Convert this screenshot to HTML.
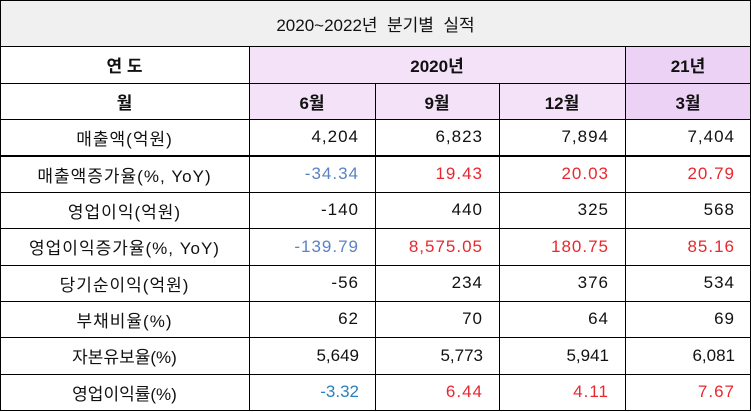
<!DOCTYPE html>
<html><head><meta charset="utf-8"><style>
body{margin:0;width:751px;height:412px;background:#fff;position:relative;overflow:hidden;font-family:"Liberation Sans","Noto Sans CJK KR",sans-serif;color:#111}
.c{position:absolute;display:flex;align-items:center;font-size:17px;box-sizing:border-box}
.h{position:absolute;background:#000;height:1px}
.v{position:absolute;background:#000;width:1px}
.ctr{justify-content:center;letter-spacing:1px}.r{justify-content:flex-end;padding-right:16px;letter-spacing:1px}
.b{font-weight:bold;font-size:17px;letter-spacing:0}
.bl{color:#5b82c4}.rd{color:#e8282e}.bl2{color:#2a80bd}
</style></head><body>
<div class="c ctr" style="left:0;top:0;width:751px;height:46px;background:#f0f0f0;font-size:17px;letter-spacing:0">2020~2022년&nbsp; 분기별&nbsp; 실적</div>
<div class="c ctr" style="left:249px;top:46px;width:376px;height:37px;background:#f4e2f8"></div>
<div class="c ctr" style="left:249px;top:83px;width:376px;height:36px;background:#f4e2f8"></div>
<div class="c ctr" style="left:625px;top:46px;width:126px;height:73px;background:#ecd2f4"></div>

<div class="c ctr b" style="left:0;top:46px;width:249px;height:37px">연 도</div>
<div class="c ctr b" style="left:249px;top:46px;width:376px;height:37px">2020년</div>
<div class="c ctr b" style="left:625px;top:46px;width:126px;height:37px">21년</div>
<div class="c ctr b" style="left:0;top:83px;width:249px;height:36px">월</div>
<div class="c ctr b" style="left:249px;top:83px;width:126px;height:36px">6월</div>
<div class="c ctr b" style="left:375px;top:83px;width:124px;height:36px">9월</div>
<div class="c ctr b" style="left:499px;top:83px;width:126px;height:36px">12월</div>
<div class="c ctr b" style="left:625px;top:83px;width:126px;height:36px">3월</div>

<div class="c ctr" style="left:0;top:119px;width:249px;height:36px">매출액(억원)</div>
<div class="c r" style="left:249px;top:119px;width:126px;height:36px">4,204</div>
<div class="c r" style="left:375px;top:119px;width:124px;height:36px">6,823</div>
<div class="c r" style="left:499px;top:119px;width:126px;height:36px">7,894</div>
<div class="c r" style="left:625px;top:119px;width:126px;height:36px">7,404</div>

<div class="c ctr" style="left:0;top:156px;width:249px;height:36px">매출액증가율(%, YoY)</div>
<div class="c r bl" style="left:249px;top:156px;width:126px;height:36px">-34.34</div>
<div class="c r rd" style="left:375px;top:156px;width:124px;height:36px">19.43</div>
<div class="c r rd" style="left:499px;top:156px;width:126px;height:36px">20.03</div>
<div class="c r rd" style="left:625px;top:156px;width:126px;height:36px">20.79</div>

<div class="c ctr" style="left:0;top:192px;width:249px;height:36px">영업이익(억원)</div>
<div class="c r" style="left:249px;top:192px;width:126px;height:36px">-140</div>
<div class="c r" style="left:375px;top:192px;width:124px;height:36px">440</div>
<div class="c r" style="left:499px;top:192px;width:126px;height:36px">325</div>
<div class="c r" style="left:625px;top:192px;width:126px;height:36px">568</div>

<div class="c ctr" style="left:0;top:228px;width:249px;height:37px">영업이익증가율(%, YoY)</div>
<div class="c r bl" style="left:249px;top:228px;width:126px;height:37px">-139.79</div>
<div class="c r rd" style="left:375px;top:228px;width:124px;height:37px">8,575.05</div>
<div class="c r rd" style="left:499px;top:228px;width:126px;height:37px">180.75</div>
<div class="c r rd" style="left:625px;top:228px;width:126px;height:37px">85.16</div>

<div class="c ctr" style="left:0;top:265px;width:249px;height:36px">당기순이익(억원)</div>
<div class="c r" style="left:249px;top:265px;width:126px;height:36px">-56</div>
<div class="c r" style="left:375px;top:265px;width:124px;height:36px">234</div>
<div class="c r" style="left:499px;top:265px;width:126px;height:36px">376</div>
<div class="c r" style="left:625px;top:265px;width:126px;height:36px">534</div>

<div class="c ctr" style="left:0;top:301px;width:249px;height:36px">부채비율(%)</div>
<div class="c r" style="left:249px;top:301px;width:126px;height:36px">62</div>
<div class="c r" style="left:375px;top:301px;width:124px;height:36px">70</div>
<div class="c r" style="left:499px;top:301px;width:126px;height:36px">64</div>
<div class="c r" style="left:625px;top:301px;width:126px;height:36px">69</div>

<div class="c ctr" style="left:0;top:337px;width:249px;height:37px;letter-spacing:0">자본유보율(%)</div>
<div class="c r" style="left:249px;top:337px;width:126px;height:37px;letter-spacing:0">5,649</div>
<div class="c r" style="left:375px;top:337px;width:124px;height:37px;letter-spacing:0">5,773</div>
<div class="c r" style="left:499px;top:337px;width:126px;height:37px;letter-spacing:0">5,941</div>
<div class="c r" style="left:625px;top:337px;width:126px;height:37px;letter-spacing:0">6,081</div>

<div class="c ctr" style="left:0;top:374px;width:249px;height:36px;letter-spacing:0">영업이익률(%)</div>
<div class="c r bl2" style="left:249px;top:374px;width:126px;height:36px;letter-spacing:0">-3.32</div>
<div class="c r rd" style="left:375px;top:374px;width:124px;height:36px">6.44</div>
<div class="c r rd" style="left:499px;top:374px;width:126px;height:36px">4.11</div>
<div class="c r rd" style="left:625px;top:374px;width:126px;height:36px">7.67</div>

<div class="h" style="left:0;top:0;width:751px"></div>
<div class="h" style="left:0;top:46px;width:751px"></div>
<div class="h" style="left:0;top:83px;width:751px"></div>
<div class="h" style="left:0;top:119px;width:751px"></div>
<div class="h" style="left:0;top:155px;width:751px;height:2px"></div>
<div class="h" style="left:0;top:192px;width:751px"></div>
<div class="h" style="left:0;top:228px;width:751px"></div>
<div class="h" style="left:0;top:265px;width:751px"></div>
<div class="h" style="left:0;top:301px;width:751px"></div>
<div class="h" style="left:0;top:337px;width:751px"></div>
<div class="h" style="left:0;top:374px;width:751px"></div>
<div class="h" style="left:0;top:410px;width:751px"></div>
<div class="v" style="left:0;top:0;height:411px"></div>
<div class="v" style="left:750px;top:0;height:411px"></div>
<div class="v" style="left:249px;top:46px;height:365px"></div>
<div class="v" style="left:625px;top:46px;height:365px"></div>
<div class="v" style="left:375px;top:83px;height:328px"></div>
<div class="v" style="left:499px;top:83px;height:328px"></div>
</body></html>
